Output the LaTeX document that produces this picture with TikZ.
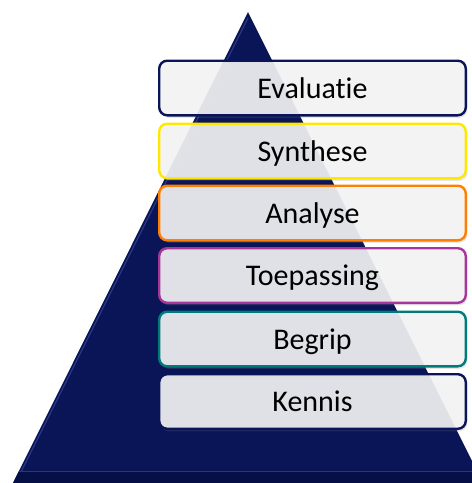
\documentclass[tikz,border=0pt]{standalone}
\usepackage{fontspec}
\setmainfont[Ligatures=NoCommon]{Carlito}
\usetikzlibrary{shadows}
\definecolor{navy}{RGB}{10,21,88}
\definecolor{navydark}{RGB}{6,16,70}
\definecolor{navylight}{RGB}{40,55,130}
\definecolor{cyellow}{RGB}{255,232,0}
\definecolor{corange}{RGB}{255,128,0}
\definecolor{cmagenta}{RGB}{168,54,154}
\definecolor{cteal}{RGB}{0,122,122}
\begin{document}
\begin{tikzpicture}[x=1pt,y=-1pt,
  levelbox/.style={draw=#1, line width=2.4pt, rounded corners=8pt,
    fill=white!96!black, fill opacity=0.9, text opacity=1,
    minimum width=306.6pt, minimum height=54.6pt, inner sep=0pt,
    font=\fontsize{30}{32}\selectfont, text height=20pt, text depth=0pt,
    drop shadow={opacity=0.2,shadow xshift=1.5pt,shadow yshift=-2.5pt}}]
\useasboundingbox (0,0) rectangle (472,483);
\begin{scope}
\clip (0,0) rectangle (472,483);
% pyramid
\fill[navy] (13,483) -- (248,12) -- (483,483) -- cycle;
% bevel: left highlight and dark bottom band
\draw[navylight, line width=1.2pt] (17,480) -- (248,18);
\fill[navydark] (13,483) -- (19,471) -- (477,471) -- (483,483) -- cycle;
\draw[navylight, line width=0.8pt] (19,471) -- (477,471);
\end{scope}
% levels
\node[levelbox=navy]     (eval) at (312.5,88)    {Evaluatie};
\node[levelbox=cyellow]  (syn)  at (312.5,151)   {Synthese};
\node[levelbox=corange]  (ana)  at (312.5,213)   {Analyse};
\node[levelbox=cmagenta] (toe)  at (312.5,275.5) {Toepassing};
\node[levelbox=cteal]    (beg)  at (312.5,339)   {Begrip};
\node[levelbox=navy]     (ken)  at (312.5,401.5) {Kennis};
\end{tikzpicture}
\end{document}
